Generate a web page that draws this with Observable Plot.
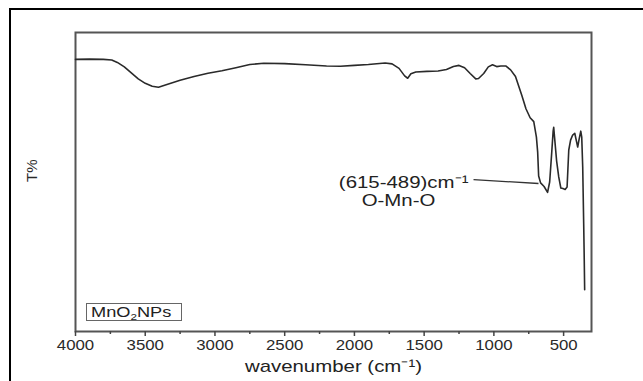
<!DOCTYPE html>
<html>
<head>
<meta charset="utf-8">
<script src="https://cdn.jsdelivr.net/npm/d3@7"></script>
<script src="https://cdn.jsdelivr.net/npm/@observablehq/plot@0.6"></script>
<style>
  html, body { margin: 0; padding: 0; background: #fff; }
  #wrap { position: relative; width: 643px; height: 381px; overflow: hidden; font-family: "Liberation Sans", Arial, sans-serif; }
  #border { position: absolute; left: 9px; top: 8px; width: 640px; height: 400px; border: 2px solid #000; box-sizing: border-box; }
  #legend { position: absolute; left: 86px; top: 303px; width: 94px; height: 16px; border: 1.5px solid #666; box-sizing: content-box; }
  #legend span { position: absolute; left: 4px; top: 0px; font-size: 14px; line-height: 16px; color: #222; transform: scaleX(1.3); transform-origin: left center; white-space: nowrap; }
  #legend sub { font-size: 9px; vertical-align: -3px; line-height: 0; }
  svg { position: absolute; left: 0; top: 0; }
</style>
</head>
<body>
<div id="wrap">
  <div id="border"></div>
  <div id="chart"></div>
  <div id="legend"><span>MnO<sub>2</sub>NPs</span></div>
</div>
<script>
// FTIR spectrum of MnO2 nanoparticles: wavenumber (cm-1) vs transmittance (arbitrary %)
const wavenumber = [
  4000, 3900, 3800, 3740, 3700, 3650, 3600, 3550, 3500, 3450, 3405, 3350, 3250, 3150,
  3050, 2950, 2850, 2750, 2650, 2500, 2350, 2200, 2100, 2000, 1900, 1780, 1730, 1680,
  1640, 1618, 1595, 1560, 1480, 1400, 1340, 1290, 1250, 1210, 1170, 1130, 1110, 1073,
  1040, 1010, 980, 950, 915, 880, 845, 800, 770, 740, 714, 695, 686, 679, 665, 640,
  615, 600, 585, 575, 571, 565, 550, 535, 520, 505, 489, 475, 463, 450, 435, 420,
  405, 399, 390, 377, 370, 363, 356, 352, 349
];
const transmittance = [
  91, 91.1, 91, 90.8, 90, 88.5, 86.5, 84.5, 83, 82, 81.7, 82.5, 84, 85.3,
  86.4, 87.2, 88.2, 89.3, 89.7, 89.6, 89.2, 88.8, 88.7, 89, 89.3, 89.8, 89.5, 88,
  85.5, 84.7, 86.2, 86.8, 87, 87.1, 87.6, 88.6, 89, 88.2, 86.3, 84.5, 84.6, 86.3,
  88.5, 89.2, 88.6, 88.8, 88.8, 87.5, 85.3, 79, 74.5, 71.5, 70.2, 65, 60, 52, 49.7, 48.5,
  46.5, 50, 60, 67, 68.3, 65, 57, 51.7, 48, 47.8, 47.5, 48.3, 60.7, 64, 65.7, 66.3,
  63, 61.7, 64, 67, 65, 55, 36, 24, 14
];

const majorTicks = [4000, 3500, 3000, 2500, 2000, 1500, 1000, 500];
const minorTicks = [3750, 3250, 2750, 2250, 1750, 1250, 750];

// annotation of the Mn–O stretching bands
const bandLabel = "(615-489)cm⁻¹";
const bandName = "O-Mn-O";
const bandPoint = {w: 680, t: 49.5};     // where the leader line meets the spectrum
const labelPoint = {w: 1146, t: 50.8};   // start of the leader line, by the label
const namePoint = {w: 1684, t: 43.8};

// the lettering of this figure is set wide
const textStretch = 1.2;

const spectrum = wavenumber.map((w, i) => ({w, t: transmittance[i]}));

const chart = Plot.plot({
  width: 643,
  height: 381,
  marginLeft: 75,
  marginRight: 52,
  marginTop: 32,
  marginBottom: 50,
  style: {fontFamily: "Liberation Sans, Arial, sans-serif", background: "transparent"},
  x: {domain: [4000, 300]},
  y: {domain: [0, 100]},
  marks: [
    Plot.frame({stroke: "#555", strokeWidth: 2}),
    Plot.axisX({ticks: minorTicks, tickSize: 3, tickFormat: () => "", label: null, stroke: "#444", strokeWidth: 1.5}),
    Plot.axisX({ticks: majorTicks, tickSize: 5, tickPadding: 4, fontSize: 14, fill: "#2a2a2a", stroke: "#444", strokeWidth: 1.5, label: null, tickFormat: d => String(d)}),
    Plot.axisY({ticks: [], label: null}),
    Plot.line(spectrum, {x: "w", y: "t", stroke: "#2a2a2a", strokeWidth: 1.6, curve: "linear"}),
    Plot.link([{}], {x1: () => labelPoint.w, y1: () => labelPoint.t, x2: () => bandPoint.w, y2: () => bandPoint.t, stroke: "#333", strokeWidth: 1.3}),
    Plot.text([bandLabel], {x: labelPoint.w, y: labelPoint.t, text: d => d, textAnchor: "end", dx: -5, dy: 3, fontSize: 17, fill: "#222"}),
    Plot.text([bandName], {x: namePoint.w, y: namePoint.t, text: d => d, textAnchor: "middle", fontSize: 17, fill: "#222"}),
    Plot.text(["T%"], {frameAnchor: "left", dx: -43, rotate: -90, text: d => d, fontSize: 15, fill: "#2a2a2a"}),
    Plot.text(["wavenumber (cm⁻¹)"], {frameAnchor: "bottom", dy: 40, text: d => d, fontSize: 17, fill: "#222"})
  ]
});

document.getElementById("chart").appendChild(chart);

// widen the horizontal lettering, keeping each label's anchor in place
for (const el of chart.querySelectorAll("text")) {
  if ((el.getAttribute("transform") || "").includes("rotate")) continue;
  if (!el.textContent.trim()) continue;
  const len = el.getComputedTextLength();
  el.setAttribute("textLength", (len * textStretch).toFixed(1));
  el.setAttribute("lengthAdjust", "spacingAndGlyphs");
}
</script>
</body>
</html>
